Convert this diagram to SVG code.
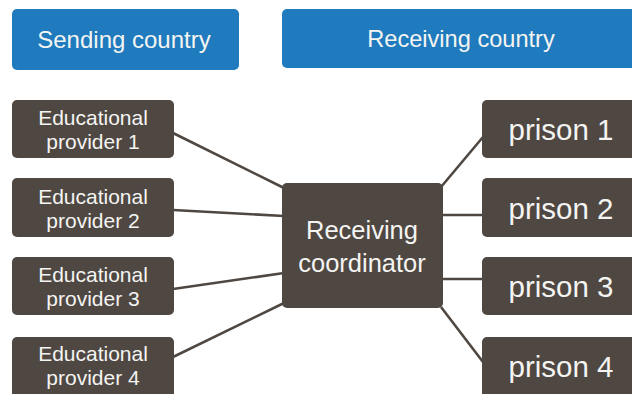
<svg xmlns="http://www.w3.org/2000/svg" width="632" height="394" viewBox="0 0 632 394">
<style>
.hdr{fill:#1f7bbd}
.box{fill:#4f4741}
.t{font-family:"Liberation Sans",Arial,sans-serif;fill:#f4f4f2;text-anchor:middle}
.e{font-size:21px}
.p{font-size:29.5px}
.con line{stroke:#4f4741;stroke-width:2.6}
</style>
<rect width="632" height="394" fill="#ffffff"/>
<g id="sending"><rect class="hdr" x="12" y="9" width="227" height="61" rx="5"/><text class="t" x="124" y="48" font-size="24">Sending country</text></g>
<g id="receiving"><rect class="hdr" x="282" y="9" width="360" height="59" rx="5"/><text class="t" x="461" y="47" font-size="23.6">Receiving country</text></g>
<g class="con" id="connectors">
<line x1="173" y1="133" x2="284" y2="188"/>
<line x1="173" y1="210" x2="284" y2="216"/>
<line x1="173" y1="289" x2="284" y2="273"/>
<line x1="173" y1="357" x2="284" y2="303"/>
<line x1="441" y1="187" x2="483" y2="137"/>
<line x1="441" y1="215" x2="483" y2="215"/>
<line x1="441" y1="279" x2="483" y2="279"/>
<line x1="441" y1="307" x2="483" y2="362"/>
</g>
<g id="ep1"><rect class="box" x="12" y="100" width="162" height="58" rx="5"/><text class="t e" x="93" y="125">Educational</text><text class="t e" x="93" y="149">provider 1</text></g>
<g id="ep2"><rect class="box" x="12" y="178" width="162" height="59" rx="5"/><text class="t e" x="93" y="204">Educational</text><text class="t e" x="93" y="228">provider 2</text></g>
<g id="ep3"><rect class="box" x="12" y="257" width="162" height="58" rx="5"/><text class="t e" x="93" y="282">Educational</text><text class="t e" x="93" y="306">provider 3</text></g>
<g id="ep4"><rect class="box" x="12" y="337" width="162" height="62" rx="5"/><text class="t e" x="93" y="361">Educational</text><text class="t e" x="93" y="385">provider 4</text></g>
<g id="coord"><rect class="box" x="282" y="183" width="161" height="125" rx="5"/><text class="t" x="362" y="239" font-size="25.5">Receiving</text><text class="t" x="362" y="272" font-size="25.5">coordinator</text></g>
<g id="p1"><rect class="box" x="482" y="100" width="160" height="58" rx="5"/><text class="t p" x="561" y="140">prison 1</text></g>
<g id="p2"><rect class="box" x="482" y="178" width="160" height="59" rx="5"/><text class="t p" x="561" y="219">prison 2</text></g>
<g id="p3"><rect class="box" x="482" y="257" width="160" height="58" rx="5"/><text class="t p" x="561" y="297">prison 3</text></g>
<g id="p4"><rect class="box" x="482" y="337" width="160" height="62" rx="5"/><text class="t p" x="561" y="377">prison 4</text></g>
</svg>
